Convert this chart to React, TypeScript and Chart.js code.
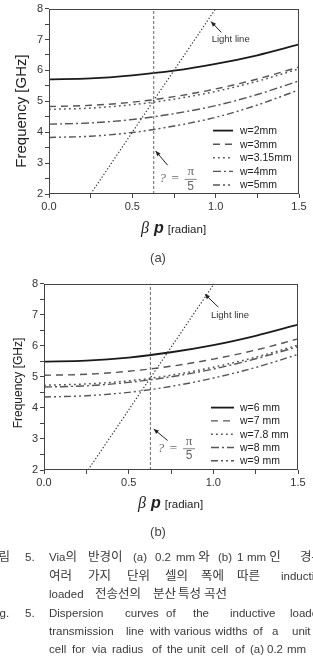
import { useEffect, useRef } from "react";
import { Chart, registerables } from "chart.js";
Chart.register(...registerables);

// ---------- data ----------
const betaP = [0, 0.25, 0.5, 0.75, 1.0, 1.25, 1.5];

const labelsA = ["w=2mm", "w=3mm", "w=3.15mm", "w=4mm", "w=5mm"];
const a_w2 = [5.71, 5.74, 5.84, 5.99, 6.21, 6.49, 6.84];
const a_w3 = [4.83, 4.87, 4.97, 5.15, 5.40, 5.72, 6.11];
const a_w315 = [4.74, 4.78, 4.89, 5.07, 5.32, 5.65, 6.05];
const a_w4 = [4.26, 4.30, 4.41, 4.60, 4.86, 5.22, 5.66];
const a_w5 = [3.83, 3.87, 3.99, 4.20, 4.48, 4.88, 5.37];

const labelsB = ["w=6 mm", "w=7 mm", "w=7.8 mm", "w=8 mm", "w=9 mm"];
const b_w6 = [5.49, 5.52, 5.62, 5.79, 6.02, 6.32, 6.68];
const b_w7 = [5.05, 5.08, 5.18, 5.34, 5.57, 5.86, 6.22];
const b_w78 = [4.73, 4.77, 4.87, 5.05, 5.31, 5.63, 6.02];
const b_w8 = [4.67, 4.71, 4.82, 5.00, 5.25, 5.58, 5.97];
const b_w9 = [4.35, 4.39, 4.50, 4.69, 4.96, 5.30, 5.72];

const lightA_x = [0.25, 1.0];
const lightB_x = [0.26, 1.005];
const light_y = [2, 8];
const piOver5 = Math.PI / 5;
const vline_y = [2, 8];

const xMin = 0, xMax = 1.5, xStep = 0.25;
const yMin = 2, yMax = 8, yStep = 0.5;

// ---------- styles ----------
const seriesStyles = [
  { dash: [], width: 1.8, color: "#1a1a1a" },
  { dash: [7, 5], width: 1.4, color: "#555" },
  { dash: [1.8, 3.2], width: 1.5, color: "#555" },
  { dash: [8, 3, 2, 3], width: 1.4, color: "#555" },
  { dash: [7, 3, 2, 3, 2, 3], width: 1.4, color: "#555" },
];

const pts = (xs: number[], ys: number[]) => xs.map((x, i) => ({ x, y: ys[i] }));

const overlay = {
  id: "overlay",
  afterDatasetsDraw(chart: any, _a: any, opts: any) {
    const { ctx, chartArea: a, scales } = chart;
    const sx = scales.x, sy = scales.y;
    ctx.save();
    ctx.setLineDash([]);
    ctx.strokeStyle = "#444";
    ctx.lineWidth = 1;
    ctx.strokeRect(Math.round(a.left) + 0.5, Math.round(a.top) + 0.5, Math.round(a.right - a.left) - 1, Math.round(a.bottom - a.top) - 1);

    const L = opts.legend;
    const lx = a.right + L.dx;
    chart.data.datasets.forEach((ds: any) => {
      if (ds.legendIndex === undefined) return;
      const yy = a.top + L.dy + ds.legendIndex * L.step;
      ctx.setLineDash(ds.borderDash || []);
      ctx.strokeStyle = ds.borderColor;
      ctx.lineWidth = ds.borderWidth;
      ctx.beginPath();
      ctx.moveTo(lx, yy);
      ctx.lineTo(lx + L.len, yy);
      ctx.stroke();
      ctx.setLineDash([]);
      ctx.fillStyle = "#222";
      ctx.font = L.font;
      ctx.textBaseline = "middle";
      ctx.textAlign = "left";
      ctx.fillText(ds.label, lx + L.len + L.gap, yy + 0.5);
    });

    const ll = opts.lightLabel;
    ctx.fillStyle = "#333";
    ctx.font = ll.font;
    ctx.textAlign = "center";
    ctx.textBaseline = "middle";
    ctx.fillText("Light line", sx.getPixelForValue(ll.x), sy.getPixelForValue(ll.y));

    const arrow = (x1: number, y1: number, x2: number, y2: number) => {
      const p1x = sx.getPixelForValue(x1), p1y = sy.getPixelForValue(y1);
      const p2x = sx.getPixelForValue(x2), p2y = sy.getPixelForValue(y2);
      ctx.strokeStyle = "#222";
      ctx.fillStyle = "#222";
      ctx.lineWidth = 1;
      ctx.setLineDash([]);
      ctx.beginPath();
      ctx.moveTo(p1x, p1y);
      ctx.lineTo(p2x, p2y);
      ctx.stroke();
      const ang = Math.atan2(p2y - p1y, p2x - p1x);
      const hl = 5, hw = 2.2;
      ctx.beginPath();
      ctx.moveTo(p2x, p2y);
      ctx.lineTo(p2x - hl * Math.cos(ang) + hw * Math.sin(ang), p2y - hl * Math.sin(ang) - hw * Math.cos(ang));
      ctx.lineTo(p2x - hl * Math.cos(ang) - hw * Math.sin(ang), p2y - hl * Math.sin(ang) + hw * Math.cos(ang));
      ctx.closePath();
      ctx.fill();
    };
    arrow(ll.ax1, ll.ay1, ll.ax2, ll.ay2);

    const f = opts.formula;
    const fx = sx.getPixelForValue(f.x), fy = sy.getPixelForValue(f.y);
    ctx.fillStyle = "#666";
    ctx.textAlign = "center";
    ctx.textBaseline = "middle";
    ctx.font = "italic 13px 'Liberation Serif', serif";
    ctx.fillText("?", fx, fy);
    ctx.font = "13px 'Liberation Serif', serif";
    ctx.fillText("=", fx + 12.5, fy);
    ctx.fillText("π", fx + 28, fy - 7);
    ctx.font = "12px 'Liberation Sans', Arial, sans-serif";
    ctx.fillText("5", fx + 28, fy + 7.5);
    ctx.strokeStyle = "#666";
    ctx.lineWidth = 0.8;
    ctx.beginPath();
    ctx.moveTo(fx + 22, fy + 0.5);
    ctx.lineTo(fx + 34, fy + 0.5);
    ctx.stroke();
    arrow(f.ax1, f.ay1, f.ax2, f.ay2);
    ctx.restore();
  },
};

function buildConfig(spec: any): any {
  const datasets: any[] = [
    { label: "pi/5", data: pts([piOver5, piOver5], vline_y), borderColor: "#666", borderWidth: 1, borderDash: [3, 2] },
    { label: "Light line", data: pts(spec.lightX, light_y), borderColor: "#333", borderWidth: 1.2, borderDash: [1.3, 2] },
    ...spec.series.map((s: number[], i: number) => ({
      label: spec.labels[i],
      legendIndex: i,
      data: pts(betaP, s),
      borderColor: seriesStyles[i].color,
      borderWidth: seriesStyles[i].width,
      borderDash: seriesStyles[i].dash,
      cubicInterpolationMode: "monotone",
    })),
  ];
  datasets.forEach((d) => {
    d.pointRadius = 0;
    d.fill = false;
    d.showLine = true;
  });
  const tickFont = { family: "'Liberation Sans', Arial, sans-serif", size: 11 };
  return {
    type: "line",
    data: { datasets },
    plugins: [overlay],
    options: {
      animation: false,
      responsive: false,
      devicePixelRatio: 1,
      layout: { padding: { top: spec.padTop, right: spec.padRight, left: 0, bottom: 0 } },
      plugins: { legend: { display: false }, tooltip: { enabled: false }, overlay: spec.overlay },
      scales: {
        x: {
          type: "linear",
          min: xMin,
          max: xMax,
          afterFit: (s: any) => { s.height = spec.xHeight; },
          border: { display: false },
          grid: { drawOnChartArea: false, drawTicks: true, tickLength: 4, tickColor: "#444" },
          ticks: {
            stepSize: xStep,
            autoSkip: false,
            maxRotation: 0,
            padding: 2,
            color: "#333",
            font: tickFont,
            callback: (v: number) => (Math.abs(v * 2 - Math.round(v * 2)) < 1e-9 ? Number(v).toFixed(1) : ""),
          },
        },
        y: {
          type: "linear",
          min: yMin,
          max: yMax,
          afterFit: (s: any) => { s.width = spec.yWidth; },
          border: { display: false },
          grid: { drawOnChartArea: false, drawTicks: true, tickLength: 4, tickColor: "#444" },
          ticks: {
            stepSize: yStep,
            autoSkip: false,
            padding: 2,
            color: "#333",
            font: tickFont,
            callback: (v: number) => (Number.isInteger(v) ? String(v) : ""),
          },
        },
      },
    },
  };
}

const specA = {
  labels: labelsA,
  series: [a_w2, a_w3, a_w315, a_w4, a_w5],
  lightX: lightA_x,
  padTop: 6,
  padRight: 14,
  yWidth: 49,
  xHeight: 46,
  overlay: {
    legend: { dx: -86, dy: 122, step: 13.6, len: 20, gap: 7, font: "10.5px 'Liberation Sans', Arial, sans-serif" },
    lightLabel: { x: 1.09, y: 6.99, font: "9.5px 'Liberation Sans', Arial, sans-serif", ax1: 1.034, ay1: 7.23, ax2: 0.972, ay2: 7.58 },
    formula: { x: 0.682, y: 2.49, ax1: 0.712, ay1: 2.93, ax2: 0.64, ay2: 3.39 },
  },
};

const specB = {
  labels: labelsB,
  series: [b_w6, b_w7, b_w78, b_w8, b_w9],
  lightX: lightB_x,
  padTop: 6,
  padRight: 15,
  yWidth: 44,
  xHeight: 45,
  overlay: {
    legend: { dx: -87, dy: 124, step: 13.3, len: 23, gap: 6, font: "10.5px 'Liberation Sans', Arial, sans-serif" },
    lightLabel: { x: 1.098, y: 6.97, font: "9.5px 'Liberation Sans', Arial, sans-serif", ax1: 1.03, ay1: 7.24, ax2: 0.95, ay2: 7.66 },
    formula: { x: 0.691, y: 2.70, ax1: 0.73, ay1: 2.95, ax2: 0.648, ay2: 3.32 },
  },
};

// ---------- caption text ----------
const captionLines: { cy: number; words: [string, number][] }[] = [
  { cy: 556, words: [["그림", -13], ["5.", 25], ["Via의", 49], ["반경이", 88], ["(a)", 133], ["0.2", 155], ["mm 와", 176], ["(b)", 218], ["1", 237], ["mm 인", 247], ["경우", 300]] },
  { cy: 574.5, words: [["여러", 49], ["가지", 88], ["단위", 127], ["셀의", 165], ["폭에", 201], ["따른", 237], ["inductive", 281]] },
  { cy: 593, words: [["loaded", 49], ["전송선의", 95], ["분산", 153], ["특성", 178], ["곡선", 204]] },
  { cy: 611.7, words: [["Fig.", -10], ["5.", 25], ["Dispersion", 49], ["curves", 125], ["of", 166], ["the", 193], ["inductive", 230], ["loaded", 290]] },
  { cy: 630, words: [["transmission", 49], ["line", 126], ["with", 150], ["various", 174], ["widths", 215], ["of", 253], ["a", 272], ["unit", 292]] },
  { cy: 648.3, words: [["cell", 49], ["for", 72], ["via", 92], ["radius", 112], ["of", 152], ["the", 167], ["unit", 187], ["cell", 211], ["of", 235], ["(a)", 250], ["0.2", 267], ["mm", 287]] },
];

const sans = "'Liberation Sans', Arial, 'Noto Sans CJK KR', sans-serif";
const hangul = /[\u3131-\uD79D]+/;

function Word({ text }: { text: string }) {
  const parts = text.split(/([\u3131-\uD79D]+)/).filter((p) => p.length > 0);
  return (
    <>
      {parts.map((p, k) =>
        hangul.test(p) ? (
          <span key={k} style={{ fontFamily: "'Noto Sans CJK KR', sans-serif", fontSize: 12.5 }}>{p}</span>
        ) : (
          <span key={k} style={{ fontSize: 11.5 }}>{p}</span>
        )
      )}
    </>
  );
}

function XTitle({ left, cy }: { left: number; cy: number }) {
  return (
    <div style={{ position: "absolute", left, top: cy - 11, height: 22, display: "flex", alignItems: "baseline", whiteSpace: "nowrap", color: "#222", lineHeight: "22px" }}>
      <span style={{ fontFamily: "'Liberation Serif', serif", fontStyle: "italic", fontSize: 16 }}>β</span>
      <span style={{ fontFamily: sans, fontStyle: "italic", fontWeight: "bold", fontSize: 16, marginLeft: 5 }}>p</span>
      <span style={{ fontFamily: sans, fontSize: 11.5, marginLeft: 4 }}>[radian]</span>
    </div>
  );
}

function YTitle({ cx, cy, size }: { cx: number; cy: number; size: number }) {
  return (
    <div style={{ position: "absolute", left: cx, top: cy, transform: "translate(-50%,-50%) rotate(-90deg)", whiteSpace: "nowrap", fontFamily: sans, fontSize: size, color: "#222" }}>
      Frequency [GHz]
    </div>
  );
}

export default function App() {
  const refA = useRef<HTMLCanvasElement>(null);
  const refB = useRef<HTMLCanvasElement>(null);
  useEffect(() => {
    const ca = new Chart(refA.current as HTMLCanvasElement, buildConfig(specA));
    const cb = new Chart(refB.current as HTMLCanvasElement, buildConfig(specB));
    return () => {
      ca.destroy();
      cb.destroy();
    };
  }, []);
  return (
    <div style={{ position: "fixed", left: 0, top: 0, width: 313, height: 661, overflow: "hidden", background: "#fff", fontFamily: sans }}>
      <canvas ref={refA} width={313} height={240} style={{ position: "absolute", left: 0, top: 0, width: 313, height: 240 }} />
      <canvas ref={refB} width={313} height={240} style={{ position: "absolute", left: 0, top: 275, width: 313, height: 240 }} />
      <YTitle cx={20} cy={111} size={15} />
      <YTitle cx={18} cy={383} size={12} />
      <XTitle left={141} cy={228} />
      <XTitle left={138} cy={503} />
      <div style={{ position: "absolute", left: 158, top: 257, transform: "translate(-50%,-50%)", fontSize: 13, color: "#444" }}>(a)</div>
      <div style={{ position: "absolute", left: 158, top: 531, transform: "translate(-50%,-50%)", fontSize: 13, color: "#444" }}>(b)</div>
      {captionLines.map((ln, i) =>
        ln.words.map(([w, x], j) => (
          <span key={i + "-" + j} style={{ position: "absolute", left: x, top: ln.cy - 8, lineHeight: "16px", color: "#3a3a3a", whiteSpace: "nowrap" }}>
            <Word text={w} />
          </span>
        ))
      )}
    </div>
  );
}
